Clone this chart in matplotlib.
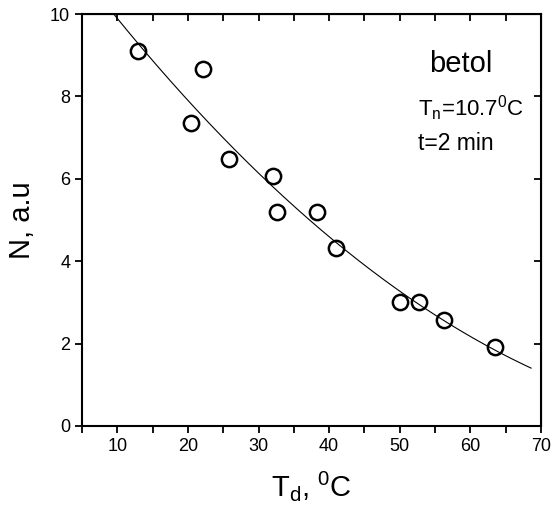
import numpy as np
import matplotlib
matplotlib.use('Agg')
import matplotlib.pyplot as plt
from matplotlib.ticker import MultipleLocator

plt.rcParams['font.family'] = ['Liberation Sans', 'DejaVu Sans']
plt.rcParams['mathtext.fontset'] = 'custom'
plt.rcParams['mathtext.rm'] = 'Liberation Sans'
plt.rcParams['mathtext.it'] = 'Liberation Sans'

# measured points: delay temperature vs number of nuclei
td = [12.9, 22.2, 20.4, 25.8, 32.1, 32.6, 38.3, 41.0, 50.0, 52.7, 56.3, 63.5]
n = [9.1, 8.67, 7.36, 6.49, 6.06, 5.19, 5.19, 4.31, 3.01, 3.01, 2.57, 1.92]

# fitted trend line (quadratic fit to the points)
coef = np.polyfit(td, n, 2)
x_fit = np.linspace(9.5, 68.6, 200)
y_fit = np.polyval(coef, x_fit)

fig = plt.figure(figsize=(5.52, 5.2), dpi=100)
ax = fig.add_axes([0.1486, 0.181, 0.8314, 0.792])

ax.plot(x_fit, y_fit, color='black', lw=0.8)
ax.plot(td, n, 'o', ms=11, mfc='none', mec='black', mew=1.8)

ax.set_xlim(5, 70)
ax.set_ylim(0, 10)
ax.xaxis.set_major_locator(MultipleLocator(10))
ax.xaxis.set_minor_locator(MultipleLocator(5))
ax.yaxis.set_major_locator(MultipleLocator(2))

for s in ax.spines.values():
    s.set_linewidth(1.5)
ax.tick_params(which='both', direction='out', width=1.3, length=5, labelsize=13)

# inward ticks on top and right
ax_top = ax.secondary_xaxis('top')
ax_top.xaxis.set_major_locator(MultipleLocator(5))
ax_top.tick_params(direction='in', length=5, width=1.3, labeltop=False)
ax_right = ax.secondary_yaxis('right')
ax_right.yaxis.set_major_locator(MultipleLocator(2))
ax_right.tick_params(direction='in', length=5, width=1.3, labelright=False)

ax.set_xlabel(r'T$_\mathrm{d}$, $^\mathrm{0}$C', fontsize=21, labelpad=10)
ax.set_ylabel('N, a.u', fontsize=21, labelpad=10)

ax.text(0.826, 0.860, 'betol', transform=ax.transAxes, fontsize=21,
        ha='center', va='baseline')
ax.text(0.732, 0.752, r'T$_\mathrm{n}$=10.7$^\mathrm{0}$C', transform=ax.transAxes,
        fontsize=16, ha='left', va='baseline')
ax.text(0.732, 0.670, 't=2 min', transform=ax.transAxes, fontsize=16.5,
        ha='left', va='baseline')

fig.savefig('out.png', dpi=100)
